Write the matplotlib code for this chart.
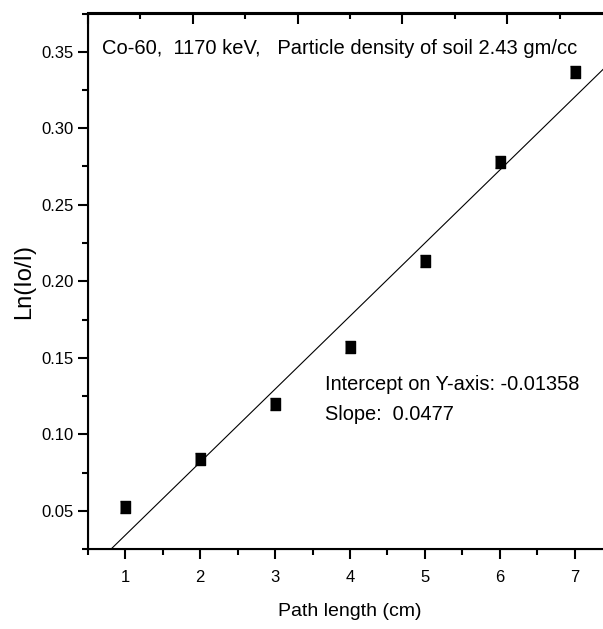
import matplotlib.pyplot as plt
from matplotlib.ticker import MultipleLocator

plt.rcParams['font.family'] = ['Liberation Sans', 'DejaVu Sans']

# measured data
path_length = [1, 2, 3, 4, 5, 6, 7]
ln_ratio = [0.0522, 0.0838, 0.1200, 0.1572, 0.2132, 0.2782, 0.3367]

# linear fit from the figure
slope = 0.0477
intercept = -0.01358

fig = plt.figure(figsize=(6.03, 6.29), dpi=100)
ax = fig.add_axes([88 / 603, (629 - 549) / 629, 524 / 603, (549 - 13.5) / 629])

box = [(-0.88, -1), (0.88, -1), (0.88, 1), (-0.88, 1)]
ax.plot(path_length, ln_ratio, linestyle='none', marker=box, color='black', markersize=8.5)
fx = [0.5, 7.5]
ax.plot(fx, [slope * v + intercept for v in fx], color='black', linewidth=0.8)

ax.set_xlim(0.5, 7.5)
ax.set_ylim(0.025, 0.375)
ax.xaxis.set_major_locator(MultipleLocator(1))
ax.xaxis.set_minor_locator(MultipleLocator(0.5))
ax.yaxis.set_major_locator(MultipleLocator(0.05))
ax.yaxis.set_minor_locator(MultipleLocator(0.025))
ax.yaxis.set_major_formatter(plt.FormatStrFormatter('%.2f'))
ax.tick_params(which='both', direction='out', width=1.5, labelsize=12)
ax.tick_params(which='major', length=7)
ax.tick_params(which='minor', length=4)
ax.tick_params(axis='x', which='major', pad=8)
for s in ax.spines.values():
    s.set_linewidth(1.5)

# top axis has its own (unlabelled) tick spacing
top = ax.twiny()
top.set_xlim(0.5, 7.5)
top.set_xticks([0.5 + 1.4 * k for k in range(6)])
top.set_xticks([1.2 + 1.4 * k for k in range(5)], minor=True)
top.tick_params(which='both', direction='in', width=1.5, labeltop=False)
top.tick_params(which='major', length=8)
top.tick_params(which='minor', length=4)
top.spines['top'].set_linewidth(1.5)

ax.set_xlabel('Path length (cm)', fontsize=14, labelpad=13)
ax.set_ylabel('Ln(Io/I)', fontsize=17, labelpad=4)

ax.text(0.69, 0.352, 'Co-60,  1170 keV,   Particle density of soil 2.43 gm/cc',
        fontsize=14.5, va='center')
ax.text(3.66, 0.1322, 'Intercept on Y-axis: -0.01358', fontsize=14.4, va='center')
ax.text(3.66, 0.1128, 'Slope:  0.0477', fontsize=14.4, va='center')

fig.savefig('out.png', dpi=100)
